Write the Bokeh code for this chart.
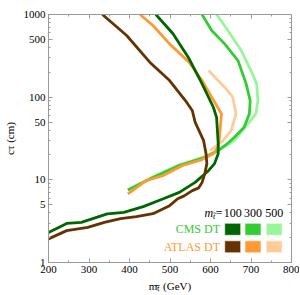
from bokeh.plotting import figure
from bokeh.models import FixedTicker, PrintfTickFormatter, LinearAxis, LogAxis, Label, CustomJSTickFormatter
from bokeh.embed import file_html
from bokeh.resources import INLINE

# ---------------- data ----------------
cms100_x = [200, 245, 281, 345, 386, 434, 482, 523, 562, 595, 610, 619, 619, 617, 615, 607, 579, 547, 507, 465]
cms100_y = [2.30, 2.97, 3.06, 3.87, 4.04, 4.74, 5.87, 7.06, 9.33, 12.9, 15.7, 20.7, 27.4, 40, 57, 75.5, 146, 293, 589, 1000]

atlas100_x = [200, 245, 297, 338, 378, 417, 458, 499, 519, 535, 555, 571, 579, 586, 591, 589, 583, 562, 555, 538, 499, 450, 393, 333]
atlas100_y = [1.93, 2.43, 2.66, 3.06, 3.39, 3.6, 3.9, 4.87, 5.9, 6.4, 7.4, 8.0, 9.25, 11.9, 15.7, 20.7, 29.8, 50, 69, 91, 159, 265, 557, 1000]

cms300_x = [396, 458, 523, 586, 619, 640, 659, 683, 696, 698, 688, 668, 635, 603, 579]
cms300_y = [7.55, 10.7, 14.9, 18.7, 22.6, 27, 32.7, 43.2, 63, 91, 145, 277, 441, 640, 1000]

cms500_x = [396, 458, 523, 586, 619, 659, 692, 712, 717, 714, 700, 676, 643, 615]
cms500_y = [7.6, 10.9, 15.2, 19, 22.6, 29.8, 47.5, 63, 91, 145, 210, 366, 640, 1000]

atlas300_x = [396, 441, 482, 531, 579, 607, 619, 623, 627, 603, 579, 547, 499, 458, 426]
atlas300_y = [6.75, 9.78, 11.2, 14.9, 17.6, 20.7, 24.7, 36.2, 63, 100, 159, 265, 441, 736, 1000]

atlas500_x = [595, 635, 655, 663, 651, 631, 599]
atlas500_y = [210, 132, 100, 63, 39.4, 29.8, 22.6]

x_ticks = [200, 300, 400, 500, 600, 700, 800]
x_minor = list(range(200, 801, 50))
y_ticks = [1, 5, 10, 50, 100, 500, 1000]
y_minor = [d * k for d in (1, 10, 100) for k in range(2, 10)]

mass_labels = ["100", "300", "500"]
cms_colors = ["#006600", "#33cc33", "#99f599"]
atlas_colors = ["#663300", "#ff9933", "#ffcc99"]

# ---------------- figure ----------------
FONT = "Liberation Serif"
GRAY = "#9a9a9a"
W, H = 299, 294
FX0, FW, FY0, FH = 43, 248, 14, 248   # frame geometry in canvas pixels


def dx(px):
    return 200 + (px - FX0) / FW * 600


def dy(py):
    return 10 ** (3 - (py - FY0) / FH * 3)


p = figure(width=W, height=H, x_range=(200, 800), y_range=(1, 1000),
           y_axis_type="log", output_backend="svg", toolbar_location=None,
           min_border_left=FX0, min_border_right=W - FX0 - FW, min_border_top=FY0,
           min_border_bottom=H - FY0 - FH)
p.grid.visible = False
p.outline_line_color = GRAY
p.background_fill_color = "white"
p.border_fill_color = "white"


def style_axis(ax, show_labels=True):
    ax.axis_line_color = GRAY
    ax.major_tick_line_color = GRAY
    ax.minor_tick_line_color = GRAY
    ax.major_tick_in = 4
    ax.major_tick_out = 0
    ax.minor_tick_in = 2
    ax.minor_tick_out = 0
    if show_labels:
        ax.major_label_text_font = FONT
        ax.major_label_text_font_size = "11px"
        ax.major_label_text_color = "black"
        ax.major_label_standoff = 3
        ax.axis_label_text_font = FONT
        ax.axis_label_text_font_size = "11px"
        ax.axis_label_text_font_style = "normal"
        ax.axis_label_text_color = "black"
    else:
        ax.formatter = CustomJSTickFormatter(code="return ''")
        ax.major_label_standoff = 0


xa = p.xaxis[0]
xa.ticker = FixedTicker(ticks=x_ticks, minor_ticks=x_minor)
style_axis(xa)
xa.axis_label = "m\u209c\u0303 (GeV)"
xa.axis_label_standoff = 4
ya = p.yaxis[0]
ya.ticker = FixedTicker(ticks=y_ticks, minor_ticks=y_minor)
ya.formatter = PrintfTickFormatter(format="%d")
style_axis(ya)
ya.axis_label = "c\u03c4 (cm)"
ya.axis_label_standoff = 5

top = LinearAxis(ticker=FixedTicker(ticks=x_ticks, minor_ticks=x_minor))
style_axis(top, False)
p.add_layout(top, "above")
right = LogAxis(ticker=FixedTicker(ticks=y_ticks, minor_ticks=y_minor))
style_axis(right, False)
p.add_layout(right, "right")

# ---------------- curves ----------------
LW = 2.8
p.line(cms500_x, cms500_y, line_color=cms_colors[2], line_width=LW)
p.line(atlas500_x, atlas500_y, line_color=atlas_colors[2], line_width=LW)
p.line(cms300_x, cms300_y, line_color=cms_colors[1], line_width=LW)
p.line(atlas300_x, atlas300_y, line_color=atlas_colors[1], line_width=LW)
p.line(cms100_x, cms100_y, line_color=cms_colors[0], line_width=LW)
p.line(atlas100_x, atlas100_y, line_color=atlas_colors[0], line_width=LW)

# ---------------- legend ----------------
col_px = [231, 251.7, 273.3]
row_cms, row_atlas, row_head = 228.8, 246.3, 212
p.rect(x=[dx(c) for c in col_px], y=[dy(row_cms)] * 3, width=16, height=12,
       width_units="screen", height_units="screen", fill_color=cms_colors,
       line_color="white", line_alpha=0.6)
p.rect(x=[dx(c) for c in col_px], y=[dy(row_atlas)] * 3, width=16, height=12,
       width_units="screen", height_units="screen", fill_color=atlas_colors,
       line_color="white", line_alpha=0.6)


def lab(text, px, py, size="11px", color="black", align="left", style="normal"):
    p.add_layout(Label(x=dx(px), y=dy(py), text=text, text_font=FONT, text_font_size=size,
                       text_color=color, text_align=align, text_baseline="middle",
                       text_font_style=style))


for c, t in zip(col_px, mass_labels):
    lab(t, c, row_head, size="12px", align="center")
lab("=", 220.5, row_head, size="12px", align="right")
lab("m", 211, row_head, size="12px", align="right", style="italic")
lab("t\u0303", 211, row_head + 3.5, size="8px", align="left", style="italic")
lab("CMS DT", 218, row_cms, size="12px", color=cms_colors[1], align="right")
lab("ATLAS DT", 218, row_atlas, size="12px", color=atlas_colors[1], align="right")

open("out.html", "w").write(file_html(p, INLINE))
